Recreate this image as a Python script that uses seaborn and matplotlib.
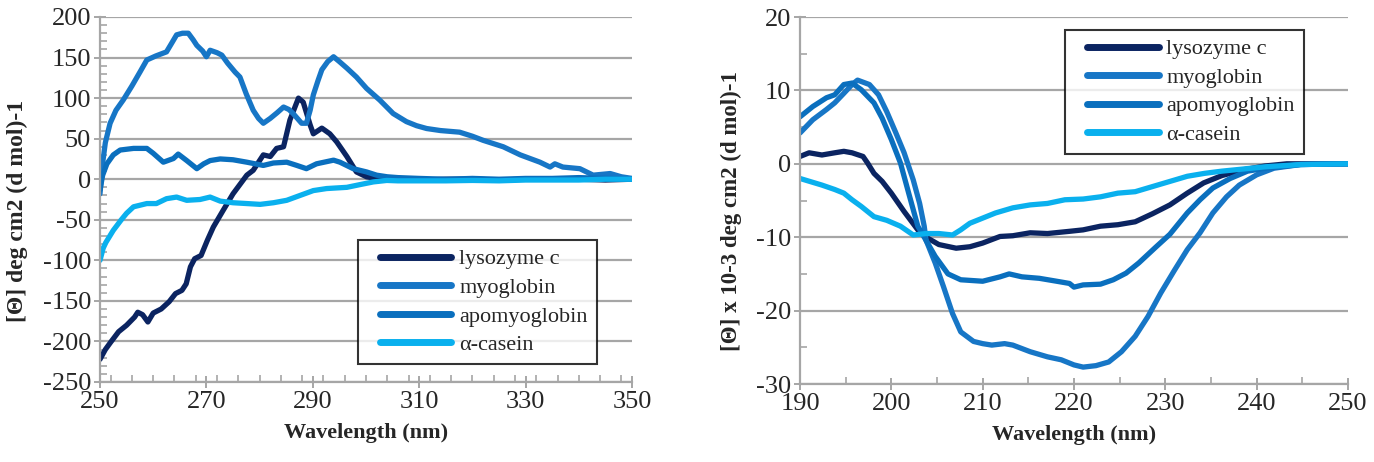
import numpy as np
import pandas as pd
import matplotlib
matplotlib.use("Agg")
import matplotlib.pyplot as plt
import seaborn as sns
from matplotlib.ticker import MultipleLocator
from matplotlib.lines import Line2D
from matplotlib.legend_handler import HandlerLine2D

# ---------------- data ----------------
series_names = ["lysozyme c", "myoglobin", "apomyoglobin", "\u03b1-casein"]
colors = ["#0B2461", "#1776C6", "#0A6FBE", "#0AB0EE"]

# near-UV (left panel)
nu_lys_x = [250, 251, 252, 253.5, 255, 256.5, 257.1, 258, 259, 260, 261.5, 263, 264.2, 265.4, 266.2, 267, 267.8, 269,
            270.2, 271.3, 273, 275, 277.6, 278.8, 280.7, 282, 283.2, 284.5, 285.7, 287.3, 288.2, 289.5, 290.1, 291.7,
            293.2, 294.5, 296.4, 298.2, 300.1, 302, 305, 310, 315, 320, 325, 330, 335, 340, 345, 350]
nu_lys_y = [-222, -210, -201, -188, -180, -170, -164, -167, -176, -165, -160, -151, -141, -137, -129, -108, -98, -94,
            -75, -59, -40, -18, 5, 11, 30, 28, 38, 40, 73, 100, 95, 67, 56, 63,
            56, 46, 28, 9, 3, 1, 0, -1, 0, 0, -1, 0, 0, 0, -1, 0]

nu_myo_x = [250, 250.5, 251, 251.9, 253, 254.4, 256, 257.5, 258.8, 260.5, 262.5, 263.5, 264.4, 265.5, 266.6, 267.5,
            268.2, 269.3, 270, 270.7, 272, 272.9, 274, 275.4, 276.3, 277.5, 278.8, 279.8, 280.7, 282, 283.3, 284.5,
            285.5, 286.3, 287.9, 288.8, 289.5, 290.1, 291, 291.7, 292.8, 293.9, 295, 296.4, 298.2, 300.1, 302.6,
            305.1, 307.6, 309.5, 311.4, 314, 317.6, 320, 322, 325.8, 329, 332.7, 334.6, 335.5, 337, 340.2, 342.7,
            345.9, 348, 350]
nu_myo_y = [-18, 20, 45, 69, 85, 98, 115, 132, 147, 152, 157, 168, 178, 180, 180, 172,
            165, 158, 151, 159, 156, 153, 143, 132, 126, 105, 85, 75, 69, 75, 82, 89,
            86, 81, 69, 69, 85, 104, 122, 135, 145, 151, 145, 137, 126, 112, 97.5,
            81, 71, 66, 62.5, 60, 58, 53, 48, 40, 30, 21, 15, 19, 15, 13, 5,
            7, 3, 1]

nu_apo_x = [250, 250.5, 251.3, 252.5, 253.8, 256.3, 258.8, 260, 261.9, 263.8, 264.7, 266.3, 268.2, 269.5, 270.7,
            272.6, 275, 277.6, 280.7, 282.6, 285.1, 287, 288.8, 290.7, 293.9, 295.1, 297.6, 300.1, 302, 304, 306,
            310, 315, 320, 325, 330, 335, 340, 345, 350]
nu_apo_y = [-13, 5, 19, 30, 36, 38, 38, 32, 21, 25.5, 31, 23, 13, 19, 23,
            25, 24, 21, 17, 20, 21, 17, 13, 19, 23.5, 21, 13, 9, 5, 3, 2,
            1, 0, 1, 0, 1, 1, 2, 1, 0]

nu_cas_x = [250, 250.6, 251.1, 252.5, 254, 255, 256.3, 258.8, 260.6, 262.5, 264.4, 266.3, 268.8, 270.7, 272.6, 275,
            277.6, 280.1, 282.6, 285.1, 287.6, 290.1, 292.6, 296.4, 298.9, 301.4, 303.9, 306, 310, 315, 320, 325,
            330, 335, 340, 345, 350]
nu_cas_y = [-100, -85, -78, -63, -50, -42, -34, -30, -30, -24, -22, -26, -25, -22, -27, -29,
            -30, -31, -29, -26, -20, -14, -11.5, -10, -6.6, -3.3, -1.5, -2, -2, -2, -1.5, -2,
            -1, -1, -1, 0, 0]

# far-UV (right panel), values x 10^-3
fu_lys_x = [190, 191, 192.4, 193.8, 194.8, 195.7, 196.9, 197.4, 198.1, 199, 200, 201.4, 202.9, 203.8, 205.2, 207.1,
            208.6, 210, 211.9, 213.3, 215.2, 217.1, 219.5, 221, 222.9, 224.8, 226.7, 228.6, 230.5, 232.4, 234.2,
            236.2, 238.6, 240.9, 243.3, 246, 250]
fu_lys_y = [1.0, 1.5, 1.2, 1.5, 1.7, 1.5, 1.0, 0.1, -1.3, -2.4, -4.0, -6.5, -9.0, -10.0, -11.0, -11.5,
            -11.3, -10.8, -9.9, -9.8, -9.4, -9.5, -9.2, -9.0, -8.5, -8.3, -7.9, -6.8, -5.6, -4.0, -2.6,
            -1.6, -0.8, -0.3, 0.0, 0.0, 0.0]

fu_myo_x = [190, 191.4, 192.9, 193.8, 194.8, 195.7, 196.3, 197.6, 198.6, 199.5, 200.5, 201.4, 202.4, 203.1, 203.6,
            203.8, 204.8, 205.7, 206.7, 207.6, 209, 210, 211, 212.4, 213.3, 215.2, 217.1, 218.6, 220, 221, 222.4,
            223.8, 225.2, 226.7, 228.1, 229.5, 231, 232.4, 233.8, 235.2, 236.7, 238.1, 240, 241.9, 244.8, 250]
fu_myo_y = [4.2, 6.0, 7.4, 8.3, 9.6, 10.8, 11.4, 10.8, 9.4, 7.1, 4.2, 1.5, -2.2, -5.4, -8.5,
            -10.4, -13.5, -16.7, -20.4, -22.9, -24.2, -24.5, -24.7, -24.5, -24.7, -25.6, -26.3, -26.7, -27.4, -27.7, -27.5,
            -27.0, -25.6, -23.5, -20.8, -17.6, -14.5, -11.7, -9.4, -6.7, -4.5, -2.9, -1.5, -0.6, -0.1, 0.0]

fu_apo_x = [190, 191.4, 192.9, 193.8, 194.8, 195.7, 196.7, 198.1, 199, 200, 201, 201.9, 202.9, 203.6, 204.8, 206.2,
            207.6, 210, 211.9, 212.9, 214.3, 216.2, 218.1, 219.5, 220, 221, 222.9, 224.3, 225.7, 227.1, 229,
            230.5, 232.4, 233.8, 235.2, 237.1, 239, 241, 244.8, 250]
fu_apo_y = [6.4, 7.8, 9.0, 9.4, 10.8, 11.0, 10.1, 8.3, 6.2, 3.3, 0.1, -4.0, -8.5, -10.0, -12.6, -15.0,
            -15.8, -16.0, -15.4, -15.0, -15.4, -15.6, -16.0, -16.3, -16.8, -16.5, -16.4, -15.8, -14.9, -13.5, -11.3,
            -9.6, -6.7, -4.9, -3.3, -2.0, -1.0, -0.6, -0.1, 0.0]

fu_cas_x = [190, 192.4, 193.8, 194.8, 195.7, 196.7, 198.1, 199.5, 201, 202.4, 203.8, 205.2, 206.7, 207.6, 208.6,
            210, 211.4, 213.3, 215.2, 217.1, 219, 221, 222.9, 224.8, 226.7, 228.6, 230.5, 232.4, 234.3, 236.2,
            238.6, 241, 244.8, 250]
fu_cas_y = [-2.0, -2.9, -3.5, -4.0, -4.9, -5.8, -7.2, -7.7, -8.5, -9.7, -9.5, -9.5, -9.7, -9.0, -8.1,
            -7.4, -6.7, -6.0, -5.6, -5.4, -4.9, -4.8, -4.5, -4.0, -3.8, -3.1, -2.4, -1.7, -1.3, -1.0,
            -0.7, -0.4, -0.1, 0.0]

left_xticks = [250, 270, 290, 310, 330, 350]
left_yticks = [200, 150, 100, 50, 0, -50, -100, -150, -200, -250]
right_xticks = [190, 200, 210, 220, 230, 240, 250]
right_yticks = [20, 10, 0, -10, -20, -30]

left_ylabel = "[\u0398] deg cm2 (d mol)-1"
right_ylabel = "[\u0398] x 10-3 deg cm2 (d mol)-1"
xlabel = "Wavelength (nm)"


def make_df(xs, ys):
    frames = []
    for name, x, y in zip(series_names, xs, ys):
        frames.append(pd.DataFrame({"nm": x, "val": y, "protein": name}))
    return pd.concat(frames, ignore_index=True)


df_near = make_df([nu_lys_x, nu_myo_x, nu_apo_x, nu_cas_x], [nu_lys_y, nu_myo_y, nu_apo_y, nu_cas_y])
df_far = make_df([fu_lys_x, fu_myo_x, fu_apo_x, fu_cas_x], [fu_lys_y, fu_myo_y, fu_apo_y, fu_cas_y])

# ---------------- style ----------------
sns.set_style("white")
plt.rcParams["font.family"] = ["Liberation Serif", "DejaVu Serif"]
plt.rcParams["axes.unicode_minus"] = False

W, H = 1374, 462
fig = plt.figure(figsize=(W / 100, H / 100), dpi=100)

grid_c = "#A6A6A6"
fs_tick = 19
fs_label = 16
fs_leg = 16


def px_axes(x0, y0, x1, y1):
    return fig.add_axes([x0 / W, 1 - y1 / H, (x1 - x0) / W, (y1 - y0) / H])


ax1 = px_axes(100, 17, 632, 382)
ax2 = px_axes(800, 17, 1348, 384)

palette = dict(zip(series_names, colors))

for ax, df, xt, yt, xmin, ymin, ylab, leg_anchor, ylab_size, lspace in [
    (ax1, df_near, left_xticks, left_yticks, 4, 10, left_ylabel, (0.485, 0.389), 17, 0.36),
    (ax2, df_far, right_xticks, right_yticks, 5, 5, right_ylabel, (0.484, 0.965), 16.5, 0.36),
]:
    sns.lineplot(data=df, x="nm", y="val", hue="protein", palette=palette, hue_order=series_names,
                 sort=False, estimator=None, linewidth=3.8, ax=ax, legend=True)
    for ln in ax.lines:
        ln.set_solid_capstyle("round")
        ln.set_solid_joinstyle("round")
    ax.set_xlim(min(xt), max(xt))
    ax.set_ylim(min(yt), max(yt))
    ax.set_xticks(xt)
    ax.set_yticks(yt)
    ax.xaxis.set_minor_locator(MultipleLocator(xmin))
    ax.yaxis.set_minor_locator(MultipleLocator(ymin))
    ax.yaxis.grid(True, color=grid_c, linewidth=1.6)
    ax.xaxis.grid(False)
    ax.set_axisbelow(True)
    for s in ["top", "right"]:
        ax.spines[s].set_visible(False)
    for s in ["left", "bottom"]:
        ax.spines[s].set_color(grid_c)
        ax.spines[s].set_linewidth(1.6)
    ax.tick_params(which="major", direction="inout", length=9, width=1.4, color=grid_c,
                   labelsize=fs_tick, pad=2, left=True, bottom=True)
    ax.tick_params(which="minor", direction="in", length=5, width=1.2, color=grid_c, left=True, bottom=True)
    ax.set_xlabel(xlabel, fontsize=fs_label, fontweight="bold", labelpad=7)
    ax.set_ylabel(ylab, fontsize=ylab_size, fontweight="bold", labelpad=6)
    leg = ax.legend(loc="upper left", bbox_to_anchor=leg_anchor, fontsize=fs_leg, frameon=True, fancybox=False,
                    handlelength=3.8, handletextpad=0.35, labelspacing=lspace, borderpad=0.4,
                    borderaxespad=0.0, title=None,
                    handler_map={Line2D: HandlerLine2D(xpad=0.6)})
    leg.get_frame().set_edgecolor("black")
    leg.get_frame().set_linewidth(1.5)
    for h in leg.get_lines():
        h.set_linewidth(5)

ax1.yaxis.set_label_coords(-0.135, 0.47)
ax2.yaxis.set_label_coords(-0.106, 0.47)

fig.savefig("out.png", dpi=100)
